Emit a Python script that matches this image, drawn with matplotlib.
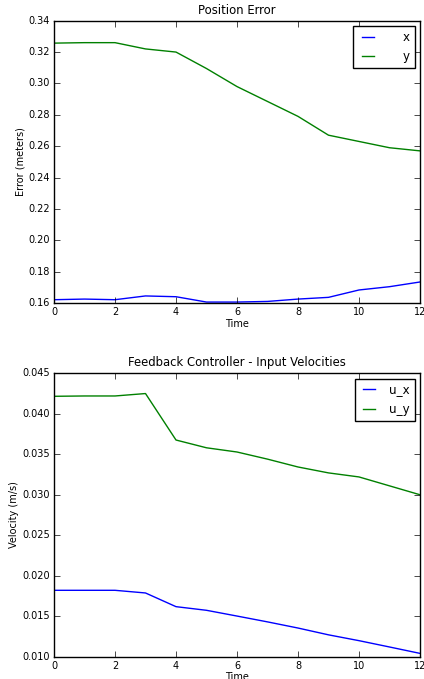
import matplotlib
matplotlib.use("Agg")
import matplotlib.pyplot as plt

t = [0, 1, 2, 3, 4, 5, 6, 7, 8, 9, 10, 11, 12]
err_x = [0.1621, 0.1625, 0.1621, 0.1645, 0.1640, 0.1606, 0.1606, 0.1610, 0.1625, 0.1636, 0.1683, 0.1704, 0.1734]
err_y = [0.3257, 0.3260, 0.3260, 0.3220, 0.3200, 0.3095, 0.2980, 0.2885, 0.2790, 0.2670, 0.2630, 0.2590, 0.2570]
u_x = [0.0182, 0.0182, 0.0182, 0.01787, 0.01618, 0.01573, 0.01502, 0.0143, 0.01354, 0.0127, 0.01198, 0.0112, 0.01041]
u_y = [0.04216, 0.0422, 0.0422, 0.0425, 0.03676, 0.0358, 0.03528, 0.0344, 0.03343, 0.0327, 0.0322, 0.0311, 0.0300]

plt.style.use("classic")
plt.rcParams["font.family"] = ["DejaVu Sans"]
plt.rcParams["font.size"] = 7

fig = plt.figure(figsize=(4.24, 6.79), dpi=100, facecolor="white")
ax1 = fig.add_axes([54/424, 1-303/679, 366/424, 282.3/679])
ax2 = fig.add_axes([54/424, 1-656.7/679, 366/424, 283.4/679])

ax1.plot(t, err_x, color="b", lw=1.0, label="    x")
ax1.plot(t, err_y, color="g", lw=1.0, label="    y")
ax1.set_xlim(0, 12)
ax1.set_ylim(0.16, 0.34)
ax1.set_yticks([0.16, 0.18, 0.20, 0.22, 0.24, 0.26, 0.28, 0.30, 0.32, 0.34])
ax1.set_title("Position Error", fontsize=8.4)
ax1.set_xlabel("Time", fontsize=7, labelpad=1)
ax1.set_ylabel("Error (meters)", fontsize=7, labelpad=2)

ax2.plot(t, u_x, color="b", lw=1.0, label="u_x")
ax2.plot(t, u_y, color="g", lw=1.0, label="u_y")
ax2.set_xlim(0, 12)
ax2.set_ylim(0.010, 0.045)
ax2.set_yticks([0.010, 0.015, 0.020, 0.025, 0.030, 0.035, 0.040, 0.045])
ax2.set_title("Feedback Controller - Input Velocities", fontsize=8.4)
ax2.set_xlabel("Time", fontsize=7, labelpad=1)
ax2.set_ylabel("Velocity (m/s)", fontsize=7, labelpad=2)

for ax in (ax1, ax2):
    ax.set_facecolor("white")
    ax.tick_params(labelsize=7, direction="in", top=True, right=True, length=4, pad=3)
    ax.set_xticks([0, 2, 4, 6, 8, 10, 12])
    leg = ax.legend(loc="upper right", fontsize=8.6, frameon=True, fancybox=False,
                    borderaxespad=0.45, borderpad=0.4, handlelength=1.6,
                    handletextpad=0.9, labelspacing=0.55)
    leg.get_frame().set_edgecolor("black")
    leg.get_frame().set_linewidth(1.0)

fig.savefig("out.png", dpi=100, facecolor="white")
